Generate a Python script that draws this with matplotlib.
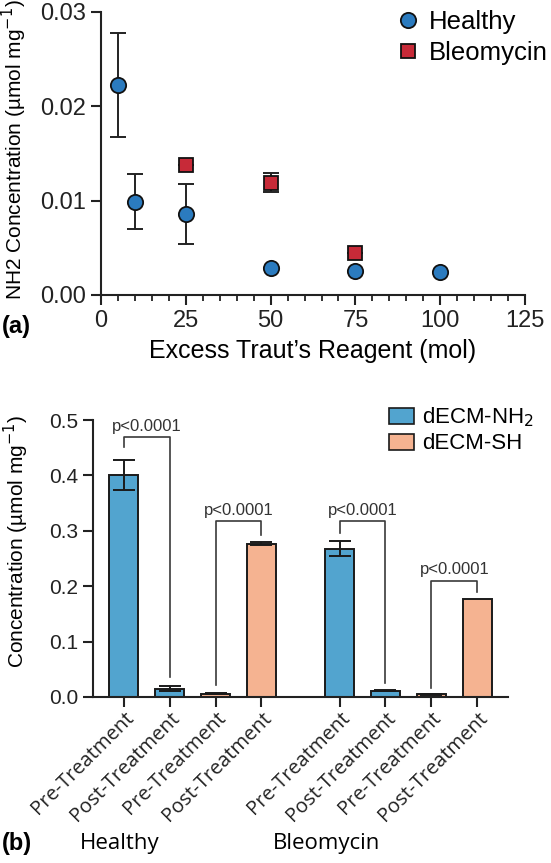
import matplotlib
matplotlib.use("Agg")
import matplotlib.pyplot as plt
import numpy as np
from matplotlib.patches import Patch

plt.rcParams['font.family'] = ['Liberation Sans', 'DejaVu Sans']

# ---- Panel (a) data ----
healthy_x = [5, 10, 25, 50, 75, 100]
healthy_y = [0.0223, 0.0099, 0.0086, 0.0029, 0.0025, 0.0024]
healthy_err = [0.0055, 0.0029, 0.0032, 0.0, 0.0, 0.0]
bleo_x = [25, 50, 75]
bleo_y = [0.0138, 0.0119, 0.0044]
bleo_err = [0.0, 0.001, 0.0]

# ---- Panel (b) data ----
bar_labels = ['Pre-Treatment', 'Post-Treatment', 'Pre-Treatment', 'Post-Treatment',
              'Pre-Treatment', 'Post-Treatment', 'Pre-Treatment', 'Post-Treatment']
bar_values = [0.401, 0.015, 0.006, 0.277, 0.268, 0.011, 0.005, 0.176]
bar_errs = [0.027, 0.004, 0.001, 0.002, 0.014, 0.001, 0.001, 0.0]
bar_series = ['NH2', 'NH2', 'SH', 'SH', 'NH2', 'NH2', 'SH', 'SH']
groups = ['Healthy', 'Bleomycin']
# brackets: (bar i, bar j, top, left leg bottom, right leg bottom)
brackets = [(0, 1, 0.469, 0.452, 0.036),
            (2, 3, 0.317, 0.022, 0.293),
            (4, 5, 0.317, 0.296, 0.025),
            (6, 7, 0.210, 0.016, 0.190)]
p_text = 'p<0.0001'

blue_c = '#2B7BBF'
red_c = '#C72A38'
nh2_c = '#52A4CF'
sh_c = '#F5B391'

fig = plt.figure(figsize=(5.51, 8.63), dpi=100)

# ---------------- (a) ----------------
ax1 = fig.add_axes([0.1833, 0.6582, 0.953 - 0.1833, 0.9861 - 0.6582])
ax1.errorbar(healthy_x, healthy_y, yerr=healthy_err, fmt='none', ecolor='#222222',
             elinewidth=1.4, capsize=6, capthick=1.4, zorder=2)
ax1.errorbar(bleo_x, bleo_y, yerr=bleo_err, fmt='none', ecolor='#222222',
             elinewidth=1.4, capsize=6, capthick=1.4, zorder=2)
ax1.plot(healthy_x, healthy_y, 'o', ms=11, mfc=blue_c, mec='#111111', mew=1.3,
         ls='none', zorder=3, label='Healthy')
ax1.plot(bleo_x, bleo_y, 's', ms=10.5, mfc=red_c, mec='#111111', mew=1.3,
         ls='none', zorder=3, label='Bleomycin')
ax1.set_xlim(0, 125)
ax1.set_ylim(0, 0.03)
ax1.set_xticks([0, 25, 50, 75, 100, 125])
ax1.set_xticks(np.arange(0, 126, 5), minor=True)
ax1.set_yticks([0, 0.01, 0.02, 0.03])
ax1.set_yticklabels(['0.00', '0.01', '0.02', '0.03'])
for s in ['top', 'right']:
    ax1.spines[s].set_visible(False)
for s in ['left', 'bottom']:
    ax1.spines[s].set_linewidth(1.5)
    ax1.spines[s].set_color('#222222')
ax1.tick_params(axis='both', which='major', direction='out', length=7, width=1.5,
                labelsize=17, colors='#222222', pad=4)
ax1.tick_params(axis='x', which='minor', direction='out', length=4.5, width=1.3,
                colors='#222222')
ax1.set_xlabel("Excess Traut\u2019s Reagent (mol)", fontsize=18, labelpad=5)
ax1.set_ylabel('NH2 Concentration (\u00b5mol mg$^{-1}$)', fontsize=15)
ax1.yaxis.set_label_coords(-0.17, 0.515)
ax1.legend(loc='upper right', bbox_to_anchor=(1.09, 1.06), frameon=False,
           fontsize=18.5, handletextpad=0.15, labelspacing=0.25, borderaxespad=0.2,
           handlelength=1.3)
fig.text(0.003, 0.622, '(a)', fontsize=17, fontweight='bold', va='center')

# ---------------- (b) ----------------
ax2 = fig.add_axes([0.1688, 0.1924, 0.922 - 0.1688, 0.5133 - 0.1924])
pos = [0, 1, 2, 3, 4.7, 5.7, 6.7, 7.7]
colors = [nh2_c if s == 'NH2' else sh_c for s in bar_series]
ax2.bar(pos, bar_values, width=0.64, color=colors, edgecolor='#1a1a1a',
        linewidth=1.4, zorder=2)
for p, v, e in zip(pos, bar_values, bar_errs):
    if e > 0:
        ax2.errorbar([p], [v], yerr=[e], fmt='none', ecolor='#1a1a1a',
                     elinewidth=1.4, capsize=8, capthick=1.4, zorder=3)
for i, j, top, lb, rb in brackets:
    xi, xj = pos[i], pos[j]
    ax2.plot([xi, xi, xj, xj], [lb, top, top, rb], color='#3a3a3a', lw=1.2,
             zorder=4, clip_on=False)
    ax2.text((xi + xj) / 2, top + 0.006, p_text, ha='center', va='bottom',
             fontsize=12, color='#333333')
ax2.set_xlim(-0.67, 8.37)
ax2.set_ylim(0, 0.5)
ax2.set_yticks([0, 0.1, 0.2, 0.3, 0.4, 0.5])
ax2.set_yticklabels(['0.0', '0.1', '0.2', '0.3', '0.4', '0.5'])
ax2.set_xticks(pos)
ax2.set_xticklabels(bar_labels, rotation=45, ha='right', rotation_mode='anchor',
                    fontsize=14.5, family=['Open Sans', 'DejaVu Sans'])
for s in ['top', 'right']:
    ax2.spines[s].set_visible(False)
for s in ['left', 'bottom']:
    ax2.spines[s].set_linewidth(1.5)
    ax2.spines[s].set_color('#222222')
ax2.tick_params(axis='y', direction='out', length=7, width=1.5, labelsize=15,
                colors='#222222')
ax2.tick_params(axis='x', direction='out', length=7, width=1.5, colors='#222222',
                pad=1)
ax2.set_ylabel('Concentration (\u00b5mol mg$^{-1}$)', fontsize=15)
ax2.yaxis.set_label_coords(-0.15, 0.56)
handles = [Patch(facecolor=nh2_c, edgecolor='#1a1a1a', linewidth=1.2),
           Patch(facecolor=sh_c, edgecolor='#1a1a1a', linewidth=1.2)]
ax2.legend(handles, ['dECM-NH$_2$', 'dECM-SH'], loc='upper right',
           bbox_to_anchor=(1.11, 1.125), frameon=False, fontsize=16,
           handlelength=1.15, handleheight=0.75, handletextpad=0.35, labelspacing=0.2)

fig.text(0.003, 0.023, '(b)', fontsize=17, fontweight='bold', va='center')
fig.text(0.218, 0.023, groups[0], fontsize=16, va='center', ha='center',
         family=['Open Sans', 'DejaVu Sans'])
fig.text(0.592, 0.023, groups[1], fontsize=16, va='center', ha='center',
         family=['Open Sans', 'DejaVu Sans'])

fig.savefig('out.png', dpi=100)
